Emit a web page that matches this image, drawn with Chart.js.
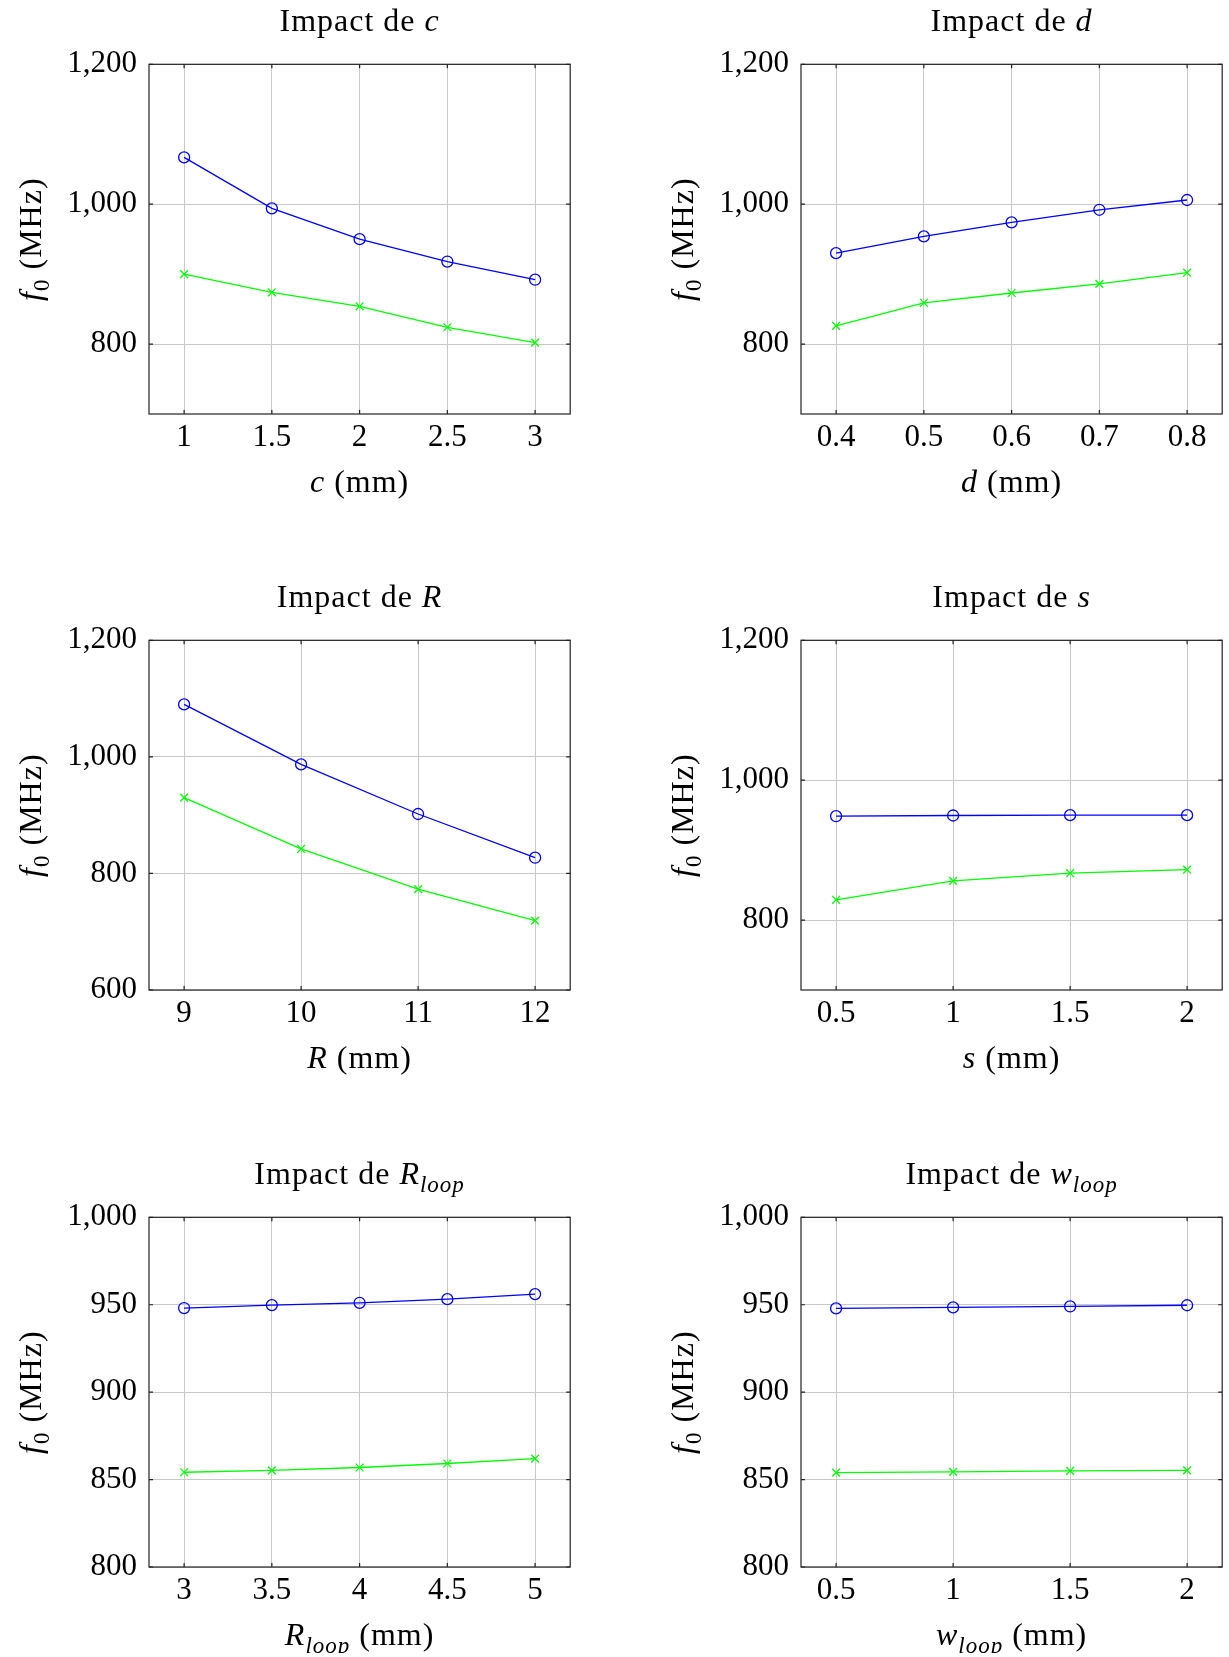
<!DOCTYPE html>
<html><head><meta charset="utf-8">
<script src="https://cdn.jsdelivr.net/npm/chart.js@4.4.0/dist/chart.umd.min.js"></script>
<style>
html,body{margin:0;padding:0;background:#fff;}
body{width:1229px;height:1657px;position:relative;overflow:hidden;}
canvas{position:absolute;}
</style></head><body>
<canvas id="p1" width="577" height="500" style="left:0;top:0"></canvas>
<canvas id="p2" width="577" height="500" style="left:652px;top:0"></canvas>
<canvas id="p3" width="577" height="500" style="left:0;top:576px"></canvas>
<canvas id="p4" width="577" height="500" style="left:652px;top:576px"></canvas>
<canvas id="p5" width="577" height="500" style="left:0;top:1153px"></canvas>
<canvas id="p6" width="577" height="500" style="left:652px;top:1153px"></canvas>
<script>
// ---- data ----
const cX = [1, 1.5, 2, 2.5, 3];
const cBlue = [1067, 994, 950, 918, 892];
const cGreen = [900, 874, 854, 824, 802];

const dX = [0.4, 0.5, 0.6, 0.7, 0.8];
const dBlue = [930, 954, 974, 992, 1006];
const dGreen = [826, 859, 873, 886, 902];

const RX = [9, 10, 11, 12];
const RBlue = [1090, 987, 902, 827];
const RGreen = [930, 842, 773, 719];

const sX = [0.5, 1, 1.5, 2];
const sBlue = [948.5, 949.5, 950, 950];
const sGreen = [829, 856, 867, 872];

const RloopX = [3, 3.5, 4, 4.5, 5];
const RloopBlue = [948.1, 949.8, 951.1, 953.2, 956.1];
const RloopGreen = [854.2, 855.3, 856.9, 859.2, 862.0];

const wloopX = [0.5, 1, 1.5, 2];
const wloopBlue = [947.9, 948.5, 949.0, 949.7];
const wloopGreen = [854.0, 854.4, 855.0, 855.3];

// y tick labels and ranges
const yTicksA = [800, 1000, 1200];
const yTicksR = [600, 800, 1000, 1200];
const yTicksLoop = [800, 850, 900, 950, 1000];
const yRangeA = [700, 1200];
const yRangeR = [600, 1200];
const yRangeLoop = [800, 1000];

// text (segments: [text, style]) style: n normal, i italic, is italic subscript, ns normal subscript
const yLabel = [['f','i'], ['0','ns'], [' (MHz)','n']];
const titles = {
  c: [['Impact de ','n'], ['c','i']],
  d: [['Impact de ','n'], ['d','i']],
  R: [['Impact de ','n'], ['R','i']],
  s: [['Impact de ','n'], ['s','i']],
  Rloop: [['Impact de ','n'], ['R','i'], ['loop','is']],
  wloop: [['Impact de ','n'], ['w','i'], ['loop','is']]
};
const xLabels = {
  c: [['c','i'], [' (mm)','n']],
  d: [['d','i'], [' (mm)','n']],
  R: [['R','i'], [' (mm)','n']],
  s: [['s','i'], [' (mm)','n']],
  Rloop: [['R','i'], ['loop','is'], [' (mm)','n']],
  wloop: [['w','i'], ['loop','is'], [' (mm)','n']]
};

// ---- drawing helpers ----
const FAM = "'Liberation Serif', 'Times New Roman', serif";
const FS = 31;          // tick labels
const LFS = 32, SUBFS = 23; // titles / axis labels
function fontFor(st){
  if (st === 'n') return LFS + 'px ' + FAM;
  if (st === 'i') return 'italic ' + LFS + 'px ' + FAM;
  if (st === 'is') return 'italic ' + SUBFS + 'px ' + FAM;
  return SUBFS + 'px ' + FAM;
}
function drawRich(ctx, segs, cx, cy){
  ctx.save();
  ctx.textBaseline = 'alphabetic';
  ctx.fillStyle = '#000';
  try { ctx.letterSpacing = '1px'; } catch (e) {}
  let w = 0;
  segs.forEach(([t, st]) => { ctx.font = fontFor(st); w += ctx.measureText(t).width; });
  let x = cx - w / 2;
  const base = cy + LFS * 0.34;
  segs.forEach(([t, st]) => {
    ctx.font = fontFor(st);
    const sub = (st === 'is' || st === 'ns');
    ctx.fillText(t, x, base + (sub ? 8 : 0));
    x += ctx.measureText(t).width;
  });
  ctx.restore();
}

const framePlugin = {
  id: 'frame',
  afterDatasetsDraw(chart) {
    const {ctx, chartArea: a, scales} = chart;
    ctx.save();
    ctx.strokeStyle = '#222';
    ctx.lineWidth = 1.2;
    ctx.beginPath();
    scales.x.ticks.forEach(t => {
      const px = scales.x.getPixelForValue(t.value);
      ctx.moveTo(px, a.bottom); ctx.lineTo(px, a.bottom - 4);
      ctx.moveTo(px, a.top); ctx.lineTo(px, a.top + 4);
    });
    scales.y.ticks.forEach(t => {
      const py = scales.y.getPixelForValue(t.value);
      ctx.moveTo(a.left, py); ctx.lineTo(a.left + 4, py);
      ctx.moveTo(a.right, py); ctx.lineTo(a.right - 4, py);
    });
    ctx.stroke();
    ctx.strokeRect(a.left, a.top, a.right - a.left, a.bottom - a.top);
    ctx.restore();
  },
  afterDraw(chart) {
    const {ctx, chartArea: a} = chart;
    const o = chart.options.plugins.frame;
    const cx = (a.left + a.right) / 2;
    drawRich(ctx, o.title, cx, a.top - 44);
    drawRich(ctx, o.xlabel, cx, a.bottom + 67);
    ctx.save();
    ctx.translate(a.left - 119, (a.top + a.bottom) / 2);
    ctx.rotate(-Math.PI / 2);
    drawRich(ctx, yLabel, 0, 0);
    ctx.restore();
  }
};

function makeChart(id, xs, blue, green, yRange, yTicks, title, xlabel) {
  const xmin = Math.min(...xs), xmax = Math.max(...xs), enl = 0.1 * (xmax - xmin);
  const tickFont = {family: FAM, size: FS};
  new Chart(document.getElementById(id), {
    type: 'line',
    data: {
      datasets: [
        {
          data: xs.map((x, i) => ({x: x, y: blue[i]})),
          borderColor: '#0000ff', borderWidth: 1.3, tension: 0,
          pointStyle: 'circle', pointRadius: 5.5, pointBorderWidth: 1.3,
          pointBackgroundColor: 'rgba(0,0,0,0)', pointBorderColor: '#0000ff'
        },
        {
          data: xs.map((x, i) => ({x: x, y: green[i]})),
          borderColor: '#00ff00', borderWidth: 1.3, tension: 0,
          pointStyle: 'crossRot', pointRadius: 5.5, pointBorderWidth: 1.3,
          pointBorderColor: '#00ff00', pointBackgroundColor: '#00ff00'
        }
      ]
    },
    options: {
      responsive: false, animation: false, devicePixelRatio: 1,
      layout: {padding: {top: 64.3, right: 2.7, left: 0, bottom: 0}},
      plugins: {
        legend: {display: false}, tooltip: {enabled: false}, title: {display: false},
        frame: {title: title, xlabel: xlabel}
      },
      scales: {
        x: {
          type: 'linear', min: xmin - enl, max: xmax + enl,
          afterBuildTicks: s => { s.ticks = xs.map(v => ({value: v})); },
          afterFit: s => { s.height = 86; s.paddingLeft = 0; s.paddingRight = 0; },
          grid: {color: '#c8c8c8', lineWidth: 1, drawTicks: false},
          border: {display: false},
          ticks: {padding: 5, font: tickFont, color: '#000', maxRotation: 0, autoSkip: false,
                  callback: v => String(v)}
        },
        y: {
          type: 'linear', min: yRange[0], max: yRange[1],
          afterBuildTicks: s => { s.ticks = yTicks.map(v => ({value: v})); },
          afterFit: s => { s.width = 149; s.paddingTop = 0; s.paddingBottom = 0; },
          grid: {color: '#c8c8c8', lineWidth: 1, drawTicks: false},
          border: {display: false},
          ticks: {padding: 12, font: tickFont, color: '#000', autoSkip: false,
                  callback: v => v.toLocaleString('en-US')}
        }
      }
    },
    plugins: [framePlugin]
  });
}

makeChart('p1', cX, cBlue, cGreen, yRangeA, yTicksA, titles.c, xLabels.c);
makeChart('p2', dX, dBlue, dGreen, yRangeA, yTicksA, titles.d, xLabels.d);
makeChart('p3', RX, RBlue, RGreen, yRangeR, yTicksR, titles.R, xLabels.R);
makeChart('p4', sX, sBlue, sGreen, yRangeA, yTicksA, titles.s, xLabels.s);
makeChart('p5', RloopX, RloopBlue, RloopGreen, yRangeLoop, yTicksLoop, titles.Rloop, xLabels.Rloop);
makeChart('p6', wloopX, wloopBlue, wloopGreen, yRangeLoop, yTicksLoop, titles.wloop, xLabels.wloop);
</script>
</body></html>
